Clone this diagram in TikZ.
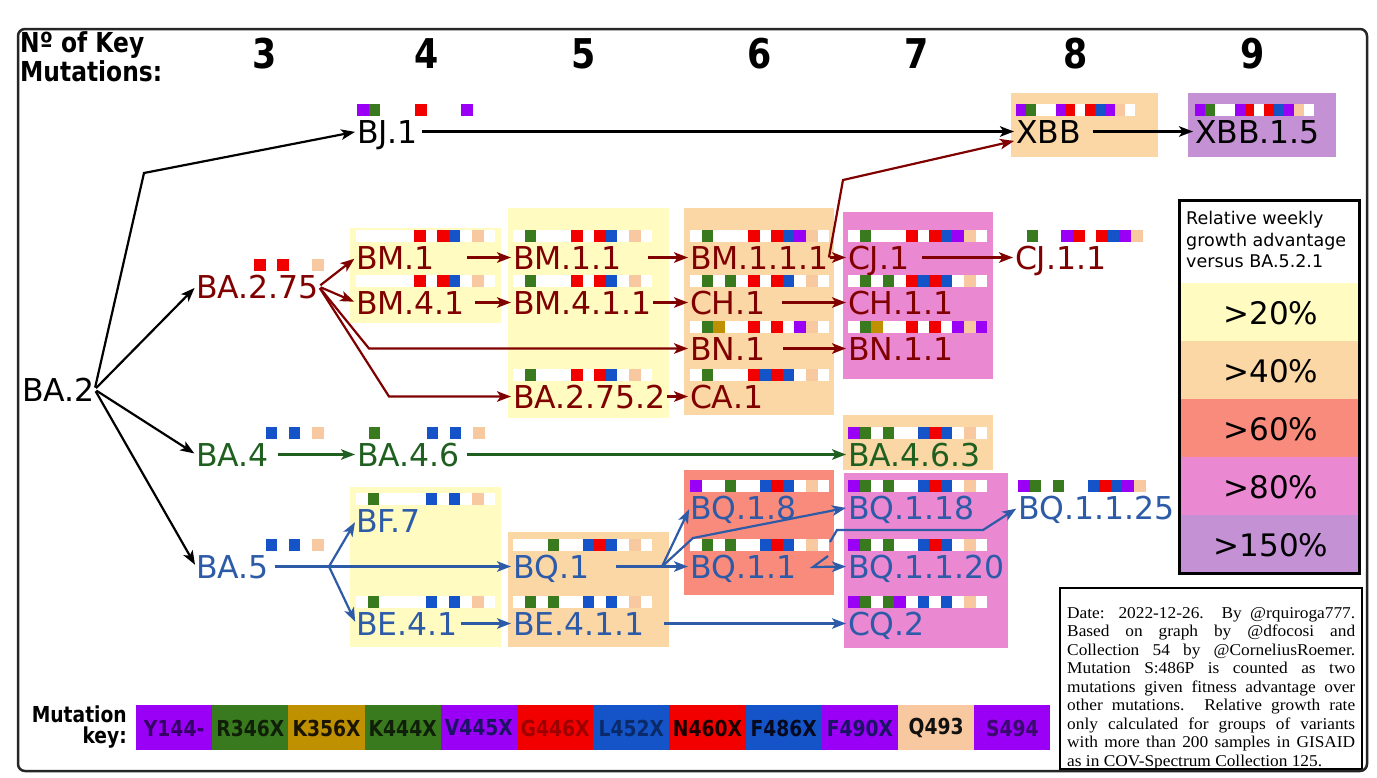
\documentclass[tikz,border=0pt]{standalone}
\usepackage{fontspec}
\usetikzlibrary{arrows.meta}
\newfontfamily\labfont{DejaVu Sans}
\newfontfamily\keyfont[FakeStretch=0.85]{DejaVu Sans}
\newfontfamily\notefont[FakeStretch=1.05]{Liberation Serif}

\definecolor{bxY}{HTML}{FFFBC1}
\definecolor{bxO}{HTML}{FCD7A6}
\definecolor{bxS}{HTML}{F98B7C}
\definecolor{bxP}{HTML}{EA89D2}
\definecolor{bxL}{HTML}{C391D4}
\definecolor{cPur}{HTML}{9A00F5}
\definecolor{cGrn}{HTML}{3A7A1E}
\definecolor{cGld}{HTML}{BF9000}
\definecolor{cRed}{HTML}{F20000}
\definecolor{cBlu}{HTML}{1454C8}
\definecolor{cPch}{HTML}{F8C9A0}
\colorlet{mc0}{cPur}\colorlet{mc1}{cGrn}\colorlet{mc2}{cGld}\colorlet{mc3}{cGrn}
\colorlet{mc4}{cPur}\colorlet{mc5}{cRed}\colorlet{mc6}{cBlu}\colorlet{mc7}{cRed}
\colorlet{mc8}{cBlu}\colorlet{mc9}{cPur}\colorlet{mc10}{cPch}\colorlet{mc11}{cPur}
\definecolor{tRed}{HTML}{800000}
\definecolor{tGrn}{HTML}{1F5F1F}
\definecolor{tBlu}{HTML}{2D5BA8}
\definecolor{kt0}{HTML}{350066}
\definecolor{kt1}{HTML}{0F1F08}
\definecolor{kt2}{HTML}{1A1400}
\definecolor{kt3}{HTML}{0F1F08}
\definecolor{kt4}{HTML}{1B1464}
\definecolor{kt5}{HTML}{9E0000}
\definecolor{kt6}{HTML}{0B2A6A}
\definecolor{kt7}{HTML}{1A0000}
\definecolor{kt8}{HTML}{050A20}
\definecolor{kt9}{HTML}{1B1464}
\definecolor{kt10}{HTML}{111111}
\definecolor{kt11}{HTML}{3A0A6E}

\newcommand\mbar[3][11.6]{%
  \fill[white] ([yshift=39pt]#2.base west) rectangle ++(12*#1,12);
  \foreach \s in {#3}{\fill[mc\s] ([xshift=\s*#1pt,yshift=39pt]#2.base west) rectangle ++(#1,12);}
}

\tikzset{
  lbl/.style={anchor=base west, inner sep=0pt, outer sep=0pt,
    font=\labfont\fontsize{31.5}{36}\selectfont, text height=23pt, text depth=0pt},
  nk/.style={lbl, text=black},
  nr/.style={lbl, text=tRed},
  ng/.style={lbl, text=tGrn},
  nb/.style={lbl, text=tBlu},
  arr/.style={line width=2.2pt, -{Stealth[length=14pt,width=10.5pt,inset=3.5pt]}, shorten >=2pt},
  lk/.style={arr, draw=black},
  lr/.style={arr, draw=tRed},
  lg/.style={arr, draw=tGrn},
  lb/.style={arr, draw=tBlu},
  keycell/.style={anchor=center, inner sep=0pt, font=\keyfont\bfseries\fontsize{22}{24}\selectfont},
  bandlbl/.style={anchor=base, inner sep=0pt, font=\labfont\fontsize{31}{36}\selectfont},
  hdr/.style={anchor=base west, inner sep=0pt, font=\keyfont\bfseries\fontsize{27.5}{30}\selectfont},
}

\begin{document}
\begin{tikzpicture}[x=1pt, y=-1pt]
\useasboundingbox (0,0) rectangle (1377,777);
\fill[white] (0,0) rectangle (1377,777);

% ---------- growth boxes ----------
\fill[bxY] (350,228) rectangle (501,323);
\fill[bxY] (350,487) rectangle (501,647);
\fill[bxY] (508,208) rectangle (669,418);
\fill[bxO] (508,532) rectangle (669,647);
\fill[bxO] (684,208) rectangle (834,415);
\fill[bxS] (684,470) rectangle (834,595);
\fill[bxP] (843,212) rectangle (993,379);
\fill[bxO] (843,415) rectangle (993,470);
\fill[bxP] (844,473) rectangle (1008,648);
\fill[bxO] (1011,93) rectangle (1158,157);
\fill[bxL] (1188,93) rectangle (1336,157);

% ---------- header ----------
\node[hdr] (hdra) at (20,52) {Nº of Key};
\node[hdr] (hdrb) at (20,81) {Mutations:};
\foreach \n/\x in {3/265,4/427,5/584,6/760,7/917,8/1076,9/1253}
  \node[anchor=base, inner sep=0pt, font=\keyfont\bfseries\fontsize{41}{44}\selectfont] (col\n) at (\x,68) {\n};

% ---------- lineage nodes ----------
\node[nk] (ba2) at (22,401) {BA.2};
\node[nr] (ba275) at (196,298) {BA.2.75};
\node[ng] (ba4) at (196,466) {BA.4};
\node[nb] (ba5) at (196,578) {BA.5};
\node[nk] (bj1) at (357,143) {BJ.1};
\node[nr] (bm1) at (356,269) {BM.1};
\node[nr] (bm41) at (356,314) {BM.4.1};
\node[ng] (ba46) at (357,466) {BA.4.6};
\node[nb] (bf7) at (356,532) {BF.7};
\node[nb] (be41) at (356,635) {BE.4.1};
\node[nr] (bm11) at (513,269) {BM.1.1};
\node[nr] (bm411) at (513,314) {BM.4.1.1};
\node[nr] (ba2752) at (513,408) {BA.2.75.2};
\node[nb] (bq1) at (513,578) {BQ.1};
\node[nb] (be411) at (513,635) {BE.4.1.1};
\node[nr] (bm111) at (690,269) {BM.1.1.1};
\node[nr] (ch1) at (690,314) {CH.1};
\node[nr] (bn1) at (690,360) {BN.1};
\node[nr] (ca1) at (690,408) {CA.1};
\node[nb] (bq18) at (690,519) {BQ.1.8};
\node[nb] (bq11) at (690,578) {BQ.1.1};
\node[nr] (cj1) at (848,269) {CJ.1};
\node[nr] (ch11) at (848,314) {CH.1.1};
\node[nr] (bn11) at (848,360) {BN.1.1};
\node[ng] (ba463) at (848,466) {BA.4.6.3};
\node[nb] (bq118) at (848,519) {BQ.1.18};
\node[nb] (bq1120) at (848,578) {BQ.1.1.20};
\node[nb] (cq2) at (848,635) {CQ.2};
\node[nr] (cj11) at (1015,269) {CJ.1.1};
\node[nb] (bq1125) at (1018,519) {BQ.1.1.25};
\node[nk] (xbb) at (1016,143) {XBB};
\node[nk] (xbb15) at (1195,143) {XBB.1.5};

% ---------- mutation bars ----------
\mbar{bj1}{0,1,5,9}
\mbar{ba275}{5,7,10}
\mbar{bm1}{5,7,8,10}
\mbar{bm41}{5,7,8,10}
\mbar{bm11}{1,5,7,8,10}
\mbar{bm411}{1,5,7,8,10}
\mbar{ba2752}{1,5,7,8,10}
\mbar{bm111}{1,5,7,8,9,10}
\mbar{ch1}{1,3,5,7,8,10}
\mbar{bn1}{1,2,5,7,9,10}
\mbar{ca1}{1,5,6,7,8,10}
\mbar{cj1}{1,5,7,8,9,10}
\mbar{ch11}{1,3,5,6,7,8,10}
\mbar{bn11}{1,2,5,7,9,10,11}
\mbar{cj11}{1,4,5,7,8,9,10}
\mbar[9.9]{xbb}{0,1,4,5,7,8,9,10}
\mbar[9.9]{xbb15}{0,1,4,5,7,8,9,10}
\mbar{ba4}{6,8,10}
\mbar{ba46}{1,6,8,10}
\mbar{ba463}{0,1,3,6,7,8,10}
\mbar{ba5}{6,8,10}
\mbar{bf7}{1,6,8,10}
\mbar{be41}{1,6,8,10}
\mbar{bq1}{3,6,7,8,10}
\mbar{be411}{1,3,6,8,10}
\mbar{bq18}{0,3,6,7,8,10}
\mbar{bq11}{1,3,6,7,8,10}
\mbar{bq118}{0,1,3,6,7,8,10}
\mbar{bq1120}{0,1,3,6,7,8,10}
\mbar{cq2}{0,1,3,4,6,8,10}
\mbar{bq1125}{0,1,3,6,7,8,9,10}

% ---------- helper coordinates ----------
\coordinate (c1) at (144,173);
\coordinate (k1) at (369,348.5);
\coordinate (k2) at (389,396.5);
\coordinate (j1) at (329,566.5);
\coordinate (j2) at (662,566.5);
\coordinate (k3) at (693,538);
\coordinate (k7) at (843,180);
\coordinate (o1) at (828,556);
\coordinate (k4) at (813,567);
\coordinate (o2) at (830,542);
\coordinate (k5) at (837,530);
\coordinate (k6) at (983,530);

% ---------- connectors ----------
\draw[lk, shorten <=2pt] (ba2.east) -- (c1) -- (bj1.west);
\draw[lk, shorten <=2pt] (ba2.east) -- (ba275.west);
\draw[lk, shorten <=2pt] (ba2.east) -- (ba4.west);
\draw[lk, shorten <=2pt] (ba2.east) -- (ba5.west);
\draw[lk, shorten <=4pt] (bj1.east) -- (xbb.west);
\draw[lk, shorten <=12pt] (xbb.east) -- (xbb15.west);

\draw[lr, shorten <=2pt] (ba275.east) -- (bm1.west);
\draw[lr, shorten <=2pt] (ba275.east) -- (bm41.west);
\draw[lr, shorten <=2pt] (ba275.east) -- (k1) -- (bn1.west);
\draw[lr, shorten <=2pt] (ba275.east) -- (k2) -- (ba2752.west);
\draw[lr, shorten <=32pt] (bm1.east) -- (bm11.west);
\draw[lr, shorten <=10pt] (bm41.east) -- (bm411.west);
\draw[lr, shorten <=26pt] (bm11.east) -- (bm111.west);
\draw[lr, shorten <=1pt] (bm411.east) -- (ch1.west);
\draw[lr, shorten <=1pt] (ba2752.east) -- (ca1.west);
\draw[lr, shorten <=1pt] (bm111.east) -- (cj1.west);
\draw[lr, shorten <=17pt] (ch1.east) -- (ch11.west);
\draw[lr, shorten <=18pt] (bn1.east) -- (bn11.west);
\draw[lr, shorten <=13pt] (cj1.east) -- (cj11.west);
\draw[lr] (bm111.east) -- (k7) -- ([yshift=-9pt]xbb.west);

\draw[lg, shorten <=9pt] (ba4.east) -- (ba46.west);
\draw[lg, shorten <=7pt] (ba46.east) -- (ba463.west);

\draw[lb, shorten <=6pt] (ba5.east) -- (j1) -- (bq1.west);
\draw[lb] (j1) -- (bf7.west);
\draw[lb] (j1) -- (be41.west);
\draw[lb, shorten <=3pt] (be41.east) -- (be411.west);
\draw[lb, shorten <=19pt] (be411.east) -- (cq2.west);
\draw[lb, shorten <=27pt] (bq1.east) -- (j2) -- (bq11.west);
\draw[lb] (j2) -- (bq18.west);
\draw[lb] (j2) -- (k3) -- (bq118.west);
\draw[lb] (o1) -- (k4) -- (bq1120.west);
\draw[lb] (o2) -- (k5) -- (k6) -- (bq1125.west);

% ---------- legend ----------
\fill[white] (1179,200) rectangle (1359,283);
\fill[bxY] (1179,283) rectangle (1359,341);
\fill[bxO] (1179,341) rectangle (1359,399);
\fill[bxS] (1179,399) rectangle (1359,457);
\fill[bxP] (1179,457) rectangle (1359,515);
\fill[bxL] (1179,515) rectangle (1359,573);
\draw[line width=3pt] (1179,200) rectangle (1359,573);
\node[anchor=north west, inner sep=0pt, align=left,
  font=\labfont\fontsize{17.5}{21.5}\selectfont] (legt) at (1186,211)
  {Relative weekly\\growth advantage\\versus BA.5.2.1};
\node[bandlbl] (l20) at (1271,324) {>20\%};
\node[bandlbl] (l40) at (1271,382) {>40\%};
\node[bandlbl] (l60) at (1271,440) {>60\%};
\node[bandlbl] (l80) at (1271,498) {>80\%};
\node[bandlbl] (l150) at (1271,556) {>150\%};

% ---------- note ----------
\fill[white] (1060,588) rectangle (1362,769);
\draw[line width=1.6pt] (1060,588) rectangle (1362,769);
\node[anchor=north west, inner sep=0pt, text width=288pt, align=justify,
  font=\notefont\fontsize{16.5}{18.5}\selectfont] (note) at (1067,607)
  {\parfillskip=0pt Date: 2022-12-26. By @rquiroga777.\linebreak
   Based on graph by @dfocosi and\linebreak
   Collection 54 by @CorneliusRoemer.\linebreak
   Mutation S:486P is counted as two\linebreak
   mutations given fitness advantage over\linebreak
   other mutations. Relative growth rate\linebreak
   only calculated for groups of variants\linebreak
   with more than 200 samples in GISAID\linebreak
   as in COV-Spectrum Collection 125.};

% ---------- mutation key ----------
\node[anchor=base east, inner sep=0pt, font=\keyfont\bfseries\fontsize{22}{24}\selectfont] (mka) at (127,722) {Mutation};
\node[anchor=base east, inner sep=0pt, font=\keyfont\bfseries\fontsize{22}{24}\selectfont] (mkb) at (127,743) {key:};
\foreach \i/\t in {0/Y144-,1/R346X,2/K356X,3/K444X,4/V445X,5/G446X,6/L452X,7/N460X,8/F486X,9/F490X,10/Q493,11/S494}{
  \fill[mc\i] (136+\i*76.2,705) rectangle ++(76.2,45);
  \node[keycell, text=kt\i] (key\i) at (136+\i*76.2+38.1,728) {\t};
}

% ---------- frame ----------
\draw[line width=2.5pt, rounded corners=7pt, black!85] (18,29) rectangle (1367,771);
\end{tikzpicture}
\end{document}
